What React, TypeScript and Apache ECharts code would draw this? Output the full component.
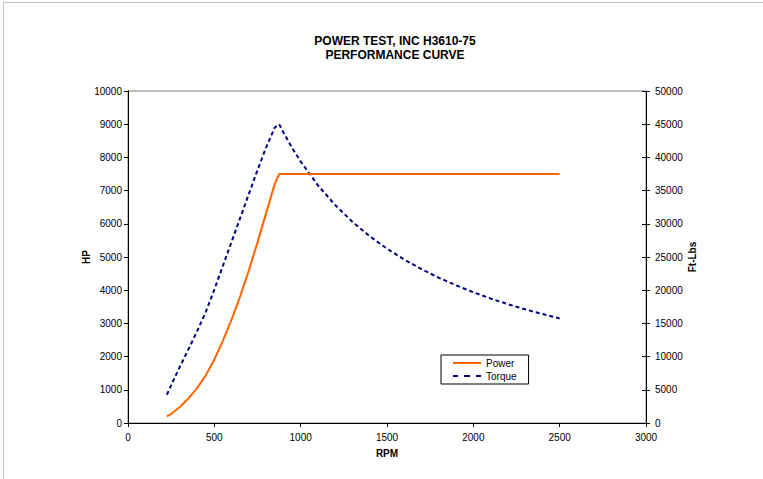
import React, { useEffect, useRef } from "react";
import * as echarts from "echarts";

const titleLines = ["POWER TEST, INC H3610-75", "PERFORMANCE CURVE"];
const rpm = [225, 250, 300, 350, 400, 450, 500, 550, 600, 650, 700, 750, 800, 850, 875, 900, 950, 1000, 1100, 1200, 1300, 1400, 1500, 1600, 1700, 1800, 1900, 2000, 2100, 2200, 2300, 2400, 2500];
const powerHP = [200, 271, 483, 740, 1051, 1431, 1914, 2482, 3119, 3824, 4598, 5441, 6321, 7202, 7497, 7500, 7500, 7500, 7500, 7500, 7500, 7500, 7500, 7500, 7500, 7500, 7500, 7500, 7500, 7500, 7500, 7500, 7500];
const torqueFtLbs = [4250, 5700, 8450, 11100, 13800, 16700, 20100, 23700, 27300, 30900, 34500, 38100, 41500, 44500, 45000, 43760, 41450, 39380, 35800, 32820, 30290, 28130, 26250, 24610, 23170, 21880, 20730, 19690, 18750, 17900, 17120, 16410, 15750];
const seriesNames = ["Power", "Torque"];
const xAxisName = "RPM";
const leftAxisName = "HP";
const rightAxisName = "Ft-Lbs";

const FONT = 'Arial, "Liberation Sans", sans-serif';

export default function App() {
  const ref = useRef<HTMLDivElement>(null);
  useEffect(() => {
    if (!ref.current) return;
    const chart = echarts.init(ref.current, undefined, { renderer: "svg" });
    const powerData = rpm.map((r, i) => [r, powerHP[i]]);
    const torqueData = rpm.map((r, i) => [r, torqueFtLbs[i]]);
    const plain = (v: number) => String(v);
    const axisLabel = { color: "#000", fontSize: 10, fontFamily: FONT, formatter: plain };
    const nameStyle = { color: "#000", fontSize: 10, fontWeight: "bold", fontFamily: FONT };
    chart.setOption({
      animation: false,
      backgroundColor: "#fff",
      title: {
        text: titleLines.join("\n"),
        left: 390,
        top: 29,
        textAlign: "center",
        textStyle: { fontSize: 12, fontWeight: "bold", fontFamily: FONT, color: "#000", lineHeight: 14 },
      },
      grid: {
        left: 128,
        right: 117,
        top: 91,
        bottom: 56,
        show: true,
        borderColor: "#808080",
        borderWidth: 1,
        backgroundColor: "transparent",
      },
      legend: {
        orient: "vertical",
        left: 441,
        top: 355,
        itemWidth: 28,
        itemHeight: 2,
        itemGap: 3,
        padding: [3, 12, 3, 12],
        borderColor: "#000",
        borderWidth: 1,
        textStyle: { color: "#000", fontSize: 10, fontFamily: FONT },
        data: [
          { name: seriesNames[0], icon: "rect" },
          { name: seriesNames[1], icon: "path://M0,0h5v2h-5z M11,0h6v2h-6z M23,0h5v2h-5z" },
        ],
      },
      xAxis: {
        type: "value",
        min: 0,
        max: 3000,
        interval: 500,
        name: xAxisName,
        nameLocation: "middle",
        nameGap: 25,
        nameMoveOverlap: false,
        nameTextStyle: nameStyle,
        axisLine: { lineStyle: { color: "#000", width: 1 } },
        axisTick: { show: true, length: 4, lineStyle: { color: "#000" } },
        axisLabel: { ...axisLabel, margin: 9 },
        splitLine: { show: false },
      },
      yAxis: [
        {
          type: "value",
          min: 0,
          max: 10000,
          interval: 1000,
          position: "left",
          name: leftAxisName,
          nameLocation: "middle",
          nameGap: 37,
          nameMoveOverlap: false,
          nameTextStyle: nameStyle,
          axisLine: { show: true, lineStyle: { color: "#000", width: 1 } },
          axisTick: { show: true, length: 4, lineStyle: { color: "#000" } },
          axisLabel: { ...axisLabel, margin: 6 },
          splitLine: { show: false },
        },
        {
          type: "value",
          min: 0,
          max: 50000,
          interval: 5000,
          position: "right",
          name: rightAxisName,
          nameLocation: "middle",
          nameGap: 41,
          nameMoveOverlap: false,
          nameTextStyle: nameStyle,
          axisLine: { show: true, lineStyle: { color: "#000", width: 1 } },
          axisTick: { show: true, length: 4, lineStyle: { color: "#000" } },
          axisLabel: { ...axisLabel, margin: 9 },
          splitLine: { show: false },
        },
        {
          type: "value",
          min: 0,
          max: 50000,
          interval: 5000,
          position: "right",
          axisLine: { show: false },
          axisTick: { show: true, inside: true, length: 4, lineStyle: { color: "#000" } },
          axisLabel: { show: false },
          splitLine: { show: false },
        },
      ],
      series: [
        {
          name: seriesNames[0],
          type: "line",
          yAxisIndex: 0,
          data: powerData,
          showSymbol: false,
          symbol: "none",
          color: "#FF6600",
          lineStyle: { color: "#FF6600", width: 2 },
          z: 3,
        },
        {
          name: seriesNames[1],
          type: "line",
          yAxisIndex: 1,
          data: torqueData,
          showSymbol: false,
          symbol: "none",
          color: "#000080",
          lineStyle: { color: "#000080", width: 2, type: [4, 3] },
          z: 2,
        },
      ],
      graphic: [
        { type: "line", shape: { x1: 3, y1: 2.5, x2: 763, y2: 2.5 }, style: { stroke: "#c4c4c4", lineWidth: 1 }, silent: true },
        { type: "line", shape: { x1: 3.5, y1: 2, x2: 3.5, y2: 479 }, style: { stroke: "#c4c4c4", lineWidth: 1 }, silent: true },
      ],
    });
    return () => chart.dispose();
  }, []);
  return <div ref={ref} style={{ position: "fixed", left: 0, top: 0, width: 763, height: 479 }} />;
}
